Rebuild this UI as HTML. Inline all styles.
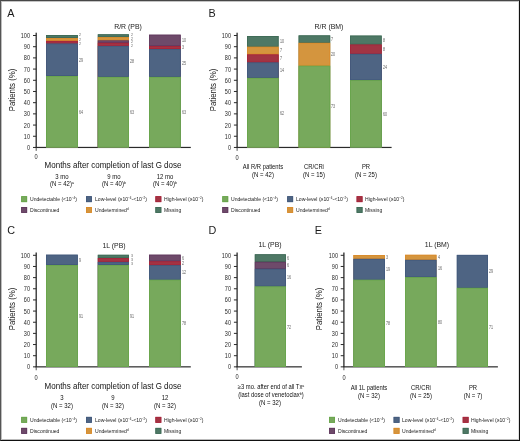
<!DOCTYPE html>
<html><head><meta charset="utf-8"><style>
html,body{margin:0;padding:0;background:#fff;}
body{width:520px;height:441px;position:relative;overflow:hidden;font-family:"Liberation Sans", sans-serif;}
.t{position:absolute;white-space:nowrap;line-height:1;font-family:"Liberation Sans", sans-serif;}
.t sup{font-size:60%;vertical-align:0;position:relative;top:-0.5em;line-height:0;}
.r{position:absolute;}
#frame{position:absolute;left:0;top:0;width:518px;height:439px;border-top:1px solid #474747;border-left:1px solid #555;border-right:1px solid #111;border-bottom:1px solid #111;}
#frame2{position:absolute;left:1px;top:1px;width:516px;height:437px;border-top:1px solid #c4c4c4;border-left:1px solid #bdbdbd;border-right:1px solid #e2e2e2;border-bottom:1px solid #bbb;}
#root{position:absolute;left:0;top:0;width:520px;height:441px;will-change:transform;}
</style></head><body><div id="root">
<svg width="520" height="441" viewBox="0 0 520 441" style="position:absolute;left:0;top:0"><rect x="35.55" y="32.70" width="1.30" height="115.35" fill="#2a2a2a"/><rect x="35.55" y="146.85" width="155.25" height="1.20" fill="#2a2a2a"/><rect x="33.00" y="146.95" width="3.20" height="1.00" fill="#2a2a2a"/><rect x="33.00" y="135.75" width="3.20" height="1.00" fill="#2a2a2a"/><rect x="33.00" y="124.56" width="3.20" height="1.00" fill="#2a2a2a"/><rect x="33.00" y="113.36" width="3.20" height="1.00" fill="#2a2a2a"/><rect x="33.00" y="102.17" width="3.20" height="1.00" fill="#2a2a2a"/><rect x="33.00" y="90.97" width="3.20" height="1.00" fill="#2a2a2a"/><rect x="33.00" y="79.78" width="3.20" height="1.00" fill="#2a2a2a"/><rect x="33.00" y="68.58" width="3.20" height="1.00" fill="#2a2a2a"/><rect x="33.00" y="57.39" width="3.20" height="1.00" fill="#2a2a2a"/><rect x="33.00" y="46.20" width="3.20" height="1.00" fill="#2a2a2a"/><rect x="33.00" y="35.00" width="3.20" height="1.00" fill="#2a2a2a"/><rect x="35.70" y="148.05" width="1.00" height="2.80" fill="#555"/><rect x="46.10" y="35.00" width="31.80" height="112.45" fill="#4e7865"/><rect x="46.10" y="38.00" width="31.80" height="109.45" fill="#d4953e"/><rect x="46.10" y="40.90" width="31.80" height="106.55" fill="#a23443"/><rect x="46.10" y="43.50" width="31.80" height="103.95" fill="#4e6483"/><rect x="46.10" y="76.00" width="31.80" height="71.45" fill="#77a95c"/><rect x="46.50" y="35.40" width="31.00" height="2.20" fill="none" stroke="#3e6a55" stroke-width="0.8"/><rect x="46.50" y="38.40" width="31.00" height="2.10" fill="none" stroke="#da8a2a" stroke-width="0.8"/><rect x="46.50" y="41.30" width="31.00" height="1.80" fill="none" stroke="#a8243a" stroke-width="0.8"/><rect x="46.50" y="43.90" width="31.00" height="31.70" fill="none" stroke="#42597c" stroke-width="0.8"/><rect x="46.50" y="76.40" width="31.00" height="70.65" fill="none" stroke="#68a64a" stroke-width="0.8"/><rect x="97.80" y="34.30" width="31.20" height="113.15" fill="#4e7865"/><rect x="97.80" y="37.10" width="31.20" height="110.35" fill="#d4953e"/><rect x="97.80" y="40.40" width="31.20" height="107.05" fill="#6e4a6a"/><rect x="97.80" y="42.80" width="31.20" height="104.65" fill="#a23443"/><rect x="97.80" y="45.90" width="31.20" height="101.55" fill="#4e6483"/><rect x="97.80" y="76.90" width="31.20" height="70.55" fill="#77a95c"/><rect x="98.20" y="34.70" width="30.40" height="2.00" fill="none" stroke="#3e6a55" stroke-width="0.8"/><rect x="98.20" y="37.50" width="30.40" height="2.50" fill="none" stroke="#da8a2a" stroke-width="0.8"/><rect x="98.20" y="40.80" width="30.40" height="1.60" fill="none" stroke="#60385e" stroke-width="0.8"/><rect x="98.20" y="43.20" width="30.40" height="2.30" fill="none" stroke="#a8243a" stroke-width="0.8"/><rect x="98.20" y="46.30" width="30.40" height="30.20" fill="none" stroke="#42597c" stroke-width="0.8"/><rect x="98.20" y="77.30" width="30.40" height="69.75" fill="none" stroke="#68a64a" stroke-width="0.8"/><rect x="149.10" y="34.70" width="31.60" height="112.75" fill="#6e4a6a"/><rect x="149.10" y="46.10" width="31.60" height="101.35" fill="#a23443"/><rect x="149.10" y="49.00" width="31.60" height="98.45" fill="#4e6483"/><rect x="149.10" y="76.90" width="31.60" height="70.55" fill="#77a95c"/><rect x="149.50" y="35.10" width="30.80" height="10.60" fill="none" stroke="#60385e" stroke-width="0.8"/><rect x="149.50" y="46.50" width="30.80" height="2.10" fill="none" stroke="#a8243a" stroke-width="0.8"/><rect x="149.50" y="49.40" width="30.80" height="27.10" fill="none" stroke="#42597c" stroke-width="0.8"/><rect x="149.50" y="77.30" width="30.80" height="69.75" fill="none" stroke="#68a64a" stroke-width="0.8"/><rect x="21.20" y="196.20" width="5.90" height="5.90" fill="#77a95c"/><rect x="21.60" y="196.60" width="5.10" height="5.10" fill="none" stroke="#68a64a" stroke-width="0.8"/><rect x="86.00" y="196.20" width="5.90" height="5.90" fill="#4e6483"/><rect x="86.40" y="196.60" width="5.10" height="5.10" fill="none" stroke="#42597c" stroke-width="0.8"/><rect x="155.40" y="196.20" width="5.90" height="5.90" fill="#a23443"/><rect x="155.80" y="196.60" width="5.10" height="5.10" fill="none" stroke="#a8243a" stroke-width="0.8"/><rect x="21.20" y="207.00" width="5.90" height="5.90" fill="#6e4a6a"/><rect x="21.60" y="207.40" width="5.10" height="5.10" fill="none" stroke="#60385e" stroke-width="0.8"/><rect x="86.00" y="207.00" width="5.90" height="5.90" fill="#d4953e"/><rect x="86.40" y="207.40" width="5.10" height="5.10" fill="none" stroke="#da8a2a" stroke-width="0.8"/><rect x="155.40" y="207.00" width="5.90" height="5.90" fill="#4e7865"/><rect x="155.80" y="207.40" width="5.10" height="5.10" fill="none" stroke="#3e6a55" stroke-width="0.8"/><rect x="236.45" y="32.70" width="1.30" height="115.35" fill="#2a2a2a"/><rect x="236.45" y="146.85" width="155.15" height="1.20" fill="#2a2a2a"/><rect x="233.90" y="146.95" width="3.20" height="1.00" fill="#2a2a2a"/><rect x="233.90" y="135.75" width="3.20" height="1.00" fill="#2a2a2a"/><rect x="233.90" y="124.56" width="3.20" height="1.00" fill="#2a2a2a"/><rect x="233.90" y="113.36" width="3.20" height="1.00" fill="#2a2a2a"/><rect x="233.90" y="102.17" width="3.20" height="1.00" fill="#2a2a2a"/><rect x="233.90" y="90.97" width="3.20" height="1.00" fill="#2a2a2a"/><rect x="233.90" y="79.78" width="3.20" height="1.00" fill="#2a2a2a"/><rect x="233.90" y="68.58" width="3.20" height="1.00" fill="#2a2a2a"/><rect x="233.90" y="57.39" width="3.20" height="1.00" fill="#2a2a2a"/><rect x="233.90" y="46.20" width="3.20" height="1.00" fill="#2a2a2a"/><rect x="233.90" y="35.00" width="3.20" height="1.00" fill="#2a2a2a"/><rect x="236.60" y="148.05" width="1.00" height="2.80" fill="#555"/><rect x="247.00" y="36.00" width="31.60" height="111.45" fill="#4e7865"/><rect x="247.00" y="46.70" width="31.60" height="100.75" fill="#d4953e"/><rect x="247.00" y="54.40" width="31.60" height="93.05" fill="#a23443"/><rect x="247.00" y="62.40" width="31.60" height="85.05" fill="#4e6483"/><rect x="247.00" y="77.90" width="31.60" height="69.55" fill="#77a95c"/><rect x="247.40" y="36.40" width="30.80" height="9.90" fill="none" stroke="#3e6a55" stroke-width="0.8"/><rect x="247.40" y="47.10" width="30.80" height="6.90" fill="none" stroke="#da8a2a" stroke-width="0.8"/><rect x="247.40" y="54.80" width="30.80" height="7.20" fill="none" stroke="#a8243a" stroke-width="0.8"/><rect x="247.40" y="62.80" width="30.80" height="14.70" fill="none" stroke="#42597c" stroke-width="0.8"/><rect x="247.40" y="78.30" width="30.80" height="68.75" fill="none" stroke="#68a64a" stroke-width="0.8"/><rect x="298.60" y="35.40" width="31.60" height="112.05" fill="#4e7865"/><rect x="298.60" y="42.80" width="31.60" height="104.65" fill="#d4953e"/><rect x="298.60" y="65.70" width="31.60" height="81.75" fill="#77a95c"/><rect x="299.00" y="35.80" width="30.80" height="6.60" fill="none" stroke="#3e6a55" stroke-width="0.8"/><rect x="299.00" y="43.20" width="30.80" height="22.10" fill="none" stroke="#da8a2a" stroke-width="0.8"/><rect x="299.00" y="66.10" width="30.80" height="80.95" fill="none" stroke="#68a64a" stroke-width="0.8"/><rect x="350.10" y="35.60" width="31.60" height="111.85" fill="#4e7865"/><rect x="350.10" y="44.50" width="31.60" height="102.95" fill="#a23443"/><rect x="350.10" y="53.80" width="31.60" height="93.65" fill="#4e6483"/><rect x="350.10" y="80.20" width="31.60" height="67.25" fill="#77a95c"/><rect x="350.50" y="36.00" width="30.80" height="8.10" fill="none" stroke="#3e6a55" stroke-width="0.8"/><rect x="350.50" y="44.90" width="30.80" height="8.50" fill="none" stroke="#a8243a" stroke-width="0.8"/><rect x="350.50" y="54.20" width="30.80" height="25.60" fill="none" stroke="#42597c" stroke-width="0.8"/><rect x="350.50" y="80.60" width="30.80" height="66.45" fill="none" stroke="#68a64a" stroke-width="0.8"/><rect x="222.30" y="196.20" width="5.90" height="5.90" fill="#77a95c"/><rect x="222.70" y="196.60" width="5.10" height="5.10" fill="none" stroke="#68a64a" stroke-width="0.8"/><rect x="287.20" y="196.20" width="5.90" height="5.90" fill="#4e6483"/><rect x="287.60" y="196.60" width="5.10" height="5.10" fill="none" stroke="#42597c" stroke-width="0.8"/><rect x="356.60" y="196.20" width="5.90" height="5.90" fill="#a23443"/><rect x="357.00" y="196.60" width="5.10" height="5.10" fill="none" stroke="#a8243a" stroke-width="0.8"/><rect x="222.30" y="207.00" width="5.90" height="5.90" fill="#6e4a6a"/><rect x="222.70" y="207.40" width="5.10" height="5.10" fill="none" stroke="#60385e" stroke-width="0.8"/><rect x="287.20" y="207.00" width="5.90" height="5.90" fill="#d4953e"/><rect x="287.60" y="207.40" width="5.10" height="5.10" fill="none" stroke="#da8a2a" stroke-width="0.8"/><rect x="356.60" y="207.00" width="5.90" height="5.90" fill="#4e7865"/><rect x="357.00" y="207.40" width="5.10" height="5.10" fill="none" stroke="#3e6a55" stroke-width="0.8"/><rect x="35.55" y="252.50" width="1.30" height="114.95" fill="#2a2a2a"/><rect x="35.55" y="366.25" width="155.25" height="1.20" fill="#2a2a2a"/><rect x="33.00" y="366.35" width="3.20" height="1.00" fill="#2a2a2a"/><rect x="33.00" y="355.20" width="3.20" height="1.00" fill="#2a2a2a"/><rect x="33.00" y="344.04" width="3.20" height="1.00" fill="#2a2a2a"/><rect x="33.00" y="332.88" width="3.20" height="1.00" fill="#2a2a2a"/><rect x="33.00" y="321.73" width="3.20" height="1.00" fill="#2a2a2a"/><rect x="33.00" y="310.58" width="3.20" height="1.00" fill="#2a2a2a"/><rect x="33.00" y="299.42" width="3.20" height="1.00" fill="#2a2a2a"/><rect x="33.00" y="288.26" width="3.20" height="1.00" fill="#2a2a2a"/><rect x="33.00" y="277.11" width="3.20" height="1.00" fill="#2a2a2a"/><rect x="33.00" y="265.96" width="3.20" height="1.00" fill="#2a2a2a"/><rect x="33.00" y="254.80" width="3.20" height="1.00" fill="#2a2a2a"/><rect x="35.70" y="367.45" width="1.00" height="2.80" fill="#555"/><rect x="46.00" y="254.70" width="31.80" height="112.15" fill="#4e6483"/><rect x="46.00" y="265.00" width="31.80" height="101.85" fill="#77a95c"/><rect x="46.40" y="255.10" width="31.00" height="9.50" fill="none" stroke="#42597c" stroke-width="0.8"/><rect x="46.40" y="265.40" width="31.00" height="101.05" fill="none" stroke="#68a64a" stroke-width="0.8"/><rect x="97.80" y="254.80" width="31.20" height="112.05" fill="#4e7865"/><rect x="97.80" y="258.10" width="31.20" height="108.75" fill="#a23443"/><rect x="97.80" y="261.90" width="31.20" height="104.95" fill="#4e6483"/><rect x="97.80" y="265.00" width="31.20" height="101.85" fill="#77a95c"/><rect x="98.20" y="255.20" width="30.40" height="2.50" fill="none" stroke="#3e6a55" stroke-width="0.8"/><rect x="98.20" y="258.50" width="30.40" height="3.00" fill="none" stroke="#a8243a" stroke-width="0.8"/><rect x="98.20" y="262.30" width="30.40" height="2.30" fill="none" stroke="#42597c" stroke-width="0.8"/><rect x="98.20" y="265.40" width="30.40" height="101.05" fill="none" stroke="#68a64a" stroke-width="0.8"/><rect x="149.00" y="254.70" width="31.70" height="112.15" fill="#6e4a6a"/><rect x="149.00" y="261.30" width="31.70" height="105.55" fill="#a23443"/><rect x="149.00" y="265.20" width="31.70" height="101.65" fill="#4e6483"/><rect x="149.00" y="279.70" width="31.70" height="87.15" fill="#77a95c"/><rect x="149.40" y="255.10" width="30.90" height="5.80" fill="none" stroke="#60385e" stroke-width="0.8"/><rect x="149.40" y="261.70" width="30.90" height="3.10" fill="none" stroke="#a8243a" stroke-width="0.8"/><rect x="149.40" y="265.60" width="30.90" height="13.70" fill="none" stroke="#42597c" stroke-width="0.8"/><rect x="149.40" y="280.10" width="30.90" height="86.35" fill="none" stroke="#68a64a" stroke-width="0.8"/><rect x="21.20" y="416.90" width="5.90" height="5.90" fill="#77a95c"/><rect x="21.60" y="417.30" width="5.10" height="5.10" fill="none" stroke="#68a64a" stroke-width="0.8"/><rect x="86.00" y="416.90" width="5.90" height="5.90" fill="#4e6483"/><rect x="86.40" y="417.30" width="5.10" height="5.10" fill="none" stroke="#42597c" stroke-width="0.8"/><rect x="155.40" y="416.90" width="5.90" height="5.90" fill="#a23443"/><rect x="155.80" y="417.30" width="5.10" height="5.10" fill="none" stroke="#a8243a" stroke-width="0.8"/><rect x="21.20" y="427.90" width="5.90" height="5.90" fill="#6e4a6a"/><rect x="21.60" y="428.30" width="5.10" height="5.10" fill="none" stroke="#60385e" stroke-width="0.8"/><rect x="86.00" y="427.90" width="5.90" height="5.90" fill="#d4953e"/><rect x="86.40" y="428.30" width="5.10" height="5.10" fill="none" stroke="#da8a2a" stroke-width="0.8"/><rect x="155.40" y="427.90" width="5.90" height="5.90" fill="#4e7865"/><rect x="155.80" y="428.30" width="5.10" height="5.10" fill="none" stroke="#3e6a55" stroke-width="0.8"/><rect x="236.45" y="252.50" width="1.30" height="114.95" fill="#2a2a2a"/><rect x="236.45" y="366.25" width="65.45" height="1.20" fill="#2a2a2a"/><rect x="233.90" y="366.35" width="3.20" height="1.00" fill="#2a2a2a"/><rect x="233.90" y="355.20" width="3.20" height="1.00" fill="#2a2a2a"/><rect x="233.90" y="344.04" width="3.20" height="1.00" fill="#2a2a2a"/><rect x="233.90" y="332.88" width="3.20" height="1.00" fill="#2a2a2a"/><rect x="233.90" y="321.73" width="3.20" height="1.00" fill="#2a2a2a"/><rect x="233.90" y="310.58" width="3.20" height="1.00" fill="#2a2a2a"/><rect x="233.90" y="299.42" width="3.20" height="1.00" fill="#2a2a2a"/><rect x="233.90" y="288.26" width="3.20" height="1.00" fill="#2a2a2a"/><rect x="233.90" y="277.11" width="3.20" height="1.00" fill="#2a2a2a"/><rect x="233.90" y="265.96" width="3.20" height="1.00" fill="#2a2a2a"/><rect x="233.90" y="254.80" width="3.20" height="1.00" fill="#2a2a2a"/><rect x="236.60" y="367.45" width="1.00" height="2.80" fill="#555"/><rect x="254.80" y="254.30" width="31.10" height="112.55" fill="#4e7865"/><rect x="254.80" y="261.80" width="31.10" height="105.05" fill="#6e4a6a"/><rect x="254.80" y="268.80" width="31.10" height="98.05" fill="#4e6483"/><rect x="254.80" y="286.40" width="31.10" height="80.45" fill="#77a95c"/><rect x="255.20" y="254.70" width="30.30" height="6.70" fill="none" stroke="#3e6a55" stroke-width="0.8"/><rect x="255.20" y="262.20" width="30.30" height="6.20" fill="none" stroke="#60385e" stroke-width="0.8"/><rect x="255.20" y="269.20" width="30.30" height="16.80" fill="none" stroke="#42597c" stroke-width="0.8"/><rect x="255.20" y="286.80" width="30.30" height="79.65" fill="none" stroke="#68a64a" stroke-width="0.8"/><rect x="343.25" y="252.50" width="1.30" height="114.95" fill="#2a2a2a"/><rect x="343.25" y="366.25" width="154.65" height="1.20" fill="#2a2a2a"/><rect x="340.70" y="366.35" width="3.20" height="1.00" fill="#2a2a2a"/><rect x="340.70" y="355.20" width="3.20" height="1.00" fill="#2a2a2a"/><rect x="340.70" y="344.04" width="3.20" height="1.00" fill="#2a2a2a"/><rect x="340.70" y="332.88" width="3.20" height="1.00" fill="#2a2a2a"/><rect x="340.70" y="321.73" width="3.20" height="1.00" fill="#2a2a2a"/><rect x="340.70" y="310.58" width="3.20" height="1.00" fill="#2a2a2a"/><rect x="340.70" y="299.42" width="3.20" height="1.00" fill="#2a2a2a"/><rect x="340.70" y="288.26" width="3.20" height="1.00" fill="#2a2a2a"/><rect x="340.70" y="277.11" width="3.20" height="1.00" fill="#2a2a2a"/><rect x="340.70" y="265.96" width="3.20" height="1.00" fill="#2a2a2a"/><rect x="340.70" y="254.80" width="3.20" height="1.00" fill="#2a2a2a"/><rect x="343.40" y="367.45" width="1.00" height="2.80" fill="#555"/><rect x="353.40" y="255.00" width="31.60" height="111.85" fill="#d4953e"/><rect x="353.40" y="258.80" width="31.60" height="108.05" fill="#4e6483"/><rect x="353.40" y="279.70" width="31.60" height="87.15" fill="#77a95c"/><rect x="353.80" y="255.40" width="30.80" height="3.00" fill="none" stroke="#da8a2a" stroke-width="0.8"/><rect x="353.80" y="259.20" width="30.80" height="20.10" fill="none" stroke="#42597c" stroke-width="0.8"/><rect x="353.80" y="280.10" width="30.80" height="86.35" fill="none" stroke="#68a64a" stroke-width="0.8"/><rect x="405.00" y="254.80" width="31.50" height="112.05" fill="#d4953e"/><rect x="405.00" y="259.80" width="31.50" height="107.05" fill="#4e6483"/><rect x="405.00" y="277.20" width="31.50" height="89.65" fill="#77a95c"/><rect x="405.40" y="255.20" width="30.70" height="4.20" fill="none" stroke="#da8a2a" stroke-width="0.8"/><rect x="405.40" y="260.20" width="30.70" height="16.60" fill="none" stroke="#42597c" stroke-width="0.8"/><rect x="405.40" y="277.60" width="30.70" height="88.85" fill="none" stroke="#68a64a" stroke-width="0.8"/><rect x="456.80" y="254.90" width="31.20" height="111.95" fill="#4e6483"/><rect x="456.80" y="287.80" width="31.20" height="79.05" fill="#77a95c"/><rect x="457.20" y="255.30" width="30.40" height="32.10" fill="none" stroke="#42597c" stroke-width="0.8"/><rect x="457.20" y="288.20" width="30.40" height="78.25" fill="none" stroke="#68a64a" stroke-width="0.8"/><rect x="329.10" y="416.90" width="5.90" height="5.90" fill="#77a95c"/><rect x="329.50" y="417.30" width="5.10" height="5.10" fill="none" stroke="#68a64a" stroke-width="0.8"/><rect x="393.60" y="416.90" width="5.90" height="5.90" fill="#4e6483"/><rect x="394.00" y="417.30" width="5.10" height="5.10" fill="none" stroke="#42597c" stroke-width="0.8"/><rect x="462.70" y="416.90" width="5.90" height="5.90" fill="#a23443"/><rect x="463.10" y="417.30" width="5.10" height="5.10" fill="none" stroke="#a8243a" stroke-width="0.8"/><rect x="329.10" y="427.90" width="5.90" height="5.90" fill="#6e4a6a"/><rect x="329.50" y="428.30" width="5.10" height="5.10" fill="none" stroke="#60385e" stroke-width="0.8"/><rect x="393.60" y="427.90" width="5.90" height="5.90" fill="#d4953e"/><rect x="394.00" y="428.30" width="5.10" height="5.10" fill="none" stroke="#da8a2a" stroke-width="0.8"/><rect x="462.70" y="427.90" width="5.90" height="5.90" fill="#4e7865"/><rect x="463.10" y="428.30" width="5.10" height="5.10" fill="none" stroke="#3e6a55" stroke-width="0.8"/></svg>
<div class="t" style="left:7.20px;top:8px;font-size:10.8px;color:#1a1a1a;transform:;transform-origin:0 0;">A</div><div class="t" style="left:128.35px;top:23px;font-size:7.7px;color:#1a1a1a;transform:translateX(-50%) scaleX(0.9);transform-origin:50% 0;">R/R (PB)</div><div class="t" style="left:29.90px;top:145px;font-size:6.3px;color:#2a2a2a;transform:translateX(-100%) scaleX(0.88);transform-origin:100% 0;">0</div><div class="t" style="left:29.90px;top:134px;font-size:6.3px;color:#2a2a2a;transform:translateX(-100%) scaleX(0.88);transform-origin:100% 0;">10</div><div class="t" style="left:29.90px;top:123px;font-size:6.3px;color:#2a2a2a;transform:translateX(-100%) scaleX(0.88);transform-origin:100% 0;">20</div><div class="t" style="left:29.90px;top:111px;font-size:6.3px;color:#2a2a2a;transform:translateX(-100%) scaleX(0.88);transform-origin:100% 0;">30</div><div class="t" style="left:29.90px;top:100px;font-size:6.3px;color:#2a2a2a;transform:translateX(-100%) scaleX(0.88);transform-origin:100% 0;">40</div><div class="t" style="left:29.90px;top:89px;font-size:6.3px;color:#2a2a2a;transform:translateX(-100%) scaleX(0.88);transform-origin:100% 0;">50</div><div class="t" style="left:29.90px;top:78px;font-size:6.3px;color:#2a2a2a;transform:translateX(-100%) scaleX(0.88);transform-origin:100% 0;">60</div><div class="t" style="left:29.90px;top:67px;font-size:6.3px;color:#2a2a2a;transform:translateX(-100%) scaleX(0.88);transform-origin:100% 0;">70</div><div class="t" style="left:29.90px;top:55px;font-size:6.3px;color:#2a2a2a;transform:translateX(-100%) scaleX(0.88);transform-origin:100% 0;">80</div><div class="t" style="left:29.90px;top:44px;font-size:6.3px;color:#2a2a2a;transform:translateX(-100%) scaleX(0.88);transform-origin:100% 0;">90</div><div class="t" style="left:29.90px;top:33px;font-size:6.3px;color:#2a2a2a;transform:translateX(-100%) scaleX(0.88);transform-origin:100% 0;">100</div><div class="t" style="left:36.10px;top:154px;font-size:6.3px;color:#2a2a2a;transform:translateX(-50%) scaleX(0.9);transform-origin:50% 0;">0</div><div class="t" style="left:12.00px;top:90.10px;font-size:8.3px;color:#222;transform:translate(-50%,-50%) rotate(-90deg) scaleX(0.945);">Patients (%)</div><div class="t" style="left:79.00px;top:59px;font-size:4.8px;color:#5e5e5e;transform: scaleX(0.75);transform-origin:0 0;">29</div><div class="t" style="left:79.00px;top:111px;font-size:4.8px;color:#5e5e5e;transform: scaleX(0.75);transform-origin:0 0;">64</div><div class="t" style="left:79.00px;top:33px;font-size:4.4px;color:#5e5e5e;transform: scaleX(0.8);transform-origin:0 0;">2</div><div class="t" style="left:79.00px;top:38px;font-size:4.4px;color:#5e5e5e;transform: scaleX(0.8);transform-origin:0 0;">2</div><div class="t" style="left:79.00px;top:42px;font-size:4.4px;color:#5e5e5e;transform: scaleX(0.8);transform-origin:0 0;">2</div><div class="t" style="left:130.10px;top:60px;font-size:4.8px;color:#5e5e5e;transform: scaleX(0.75);transform-origin:0 0;">28</div><div class="t" style="left:130.10px;top:111px;font-size:4.8px;color:#5e5e5e;transform: scaleX(0.75);transform-origin:0 0;">63</div><div class="t" style="left:130.90px;top:33px;font-size:4.4px;color:#5e5e5e;transform: scaleX(0.8);transform-origin:0 0;">2</div><div class="t" style="left:130.90px;top:37px;font-size:4.4px;color:#5e5e5e;transform: scaleX(0.8);transform-origin:0 0;">2</div><div class="t" style="left:130.90px;top:40px;font-size:4.4px;color:#5e5e5e;transform: scaleX(0.8);transform-origin:0 0;">2</div><div class="t" style="left:130.90px;top:44px;font-size:4.4px;color:#5e5e5e;transform: scaleX(0.8);transform-origin:0 0;">2</div><div class="t" style="left:181.80px;top:39px;font-size:4.8px;color:#5e5e5e;transform: scaleX(0.75);transform-origin:0 0;">10</div><div class="t" style="left:181.80px;top:46px;font-size:4.8px;color:#5e5e5e;transform: scaleX(0.75);transform-origin:0 0;">3</div><div class="t" style="left:181.80px;top:62px;font-size:4.8px;color:#5e5e5e;transform: scaleX(0.75);transform-origin:0 0;">25</div><div class="t" style="left:181.80px;top:111px;font-size:4.8px;color:#5e5e5e;transform: scaleX(0.75);transform-origin:0 0;">63</div><div class="t" style="left:113.25px;top:161px;font-size:8.6px;color:#111;transform:translateX(-50%) scaleX(0.93);transform-origin:50% 0;">Months after completion of last G dose</div><div class="t" style="left:61.70px;top:174px;font-size:6.3px;color:#111;transform:translateX(-50%) scaleX(0.95);transform-origin:50% 0;">3 mo</div><div class="t" style="left:61.70px;top:181px;font-size:6.3px;color:#111;transform:translateX(-50%) scaleX(0.95);transform-origin:50% 0;">(N = 42)<sup>a</sup></div><div class="t" style="left:113.50px;top:174px;font-size:6.3px;color:#111;transform:translateX(-50%) scaleX(0.95);transform-origin:50% 0;">9 mo</div><div class="t" style="left:113.50px;top:181px;font-size:6.3px;color:#111;transform:translateX(-50%) scaleX(0.95);transform-origin:50% 0;">(N = 40)<sup>b</sup></div><div class="t" style="left:165.00px;top:174px;font-size:6.3px;color:#111;transform:translateX(-50%) scaleX(0.95);transform-origin:50% 0;">12 mo</div><div class="t" style="left:165.00px;top:181px;font-size:6.3px;color:#111;transform:translateX(-50%) scaleX(0.95);transform-origin:50% 0;">(N = 40)<sup>b</sup></div><div class="t" style="left:29.80px;top:197px;font-size:5.3px;color:#1a1a1a;transform: scaleX(0.96);transform-origin:0 0;">Undetectable (&lt;10<sup>−4</sup>)</div><div class="t" style="left:94.60px;top:197px;font-size:5.3px;color:#1a1a1a;transform: scaleX(0.96);transform-origin:0 0;">Low-level (≥10<sup>−4</sup>-&lt;10<sup>−2</sup>)</div><div class="t" style="left:164.00px;top:197px;font-size:5.3px;color:#1a1a1a;transform: scaleX(0.96);transform-origin:0 0;">High-level (≥10<sup>−2</sup>)</div><div class="t" style="left:29.80px;top:208px;font-size:5.3px;color:#1a1a1a;transform: scaleX(0.96);transform-origin:0 0;">Discontinued</div><div class="t" style="left:94.60px;top:208px;font-size:5.3px;color:#1a1a1a;transform: scaleX(0.96);transform-origin:0 0;">Undetermined<sup>d</sup></div><div class="t" style="left:164.00px;top:208px;font-size:5.3px;color:#1a1a1a;transform: scaleX(0.96);transform-origin:0 0;">Missing</div><div class="t" style="left:208.40px;top:8px;font-size:10.8px;color:#1a1a1a;transform:;transform-origin:0 0;">B</div><div class="t" style="left:329.30px;top:23px;font-size:7.7px;color:#1a1a1a;transform:translateX(-50%) scaleX(0.9);transform-origin:50% 0;">R/R (BM)</div><div class="t" style="left:230.80px;top:145px;font-size:6.3px;color:#2a2a2a;transform:translateX(-100%) scaleX(0.88);transform-origin:100% 0;">0</div><div class="t" style="left:230.80px;top:134px;font-size:6.3px;color:#2a2a2a;transform:translateX(-100%) scaleX(0.88);transform-origin:100% 0;">10</div><div class="t" style="left:230.80px;top:123px;font-size:6.3px;color:#2a2a2a;transform:translateX(-100%) scaleX(0.88);transform-origin:100% 0;">20</div><div class="t" style="left:230.80px;top:111px;font-size:6.3px;color:#2a2a2a;transform:translateX(-100%) scaleX(0.88);transform-origin:100% 0;">30</div><div class="t" style="left:230.80px;top:100px;font-size:6.3px;color:#2a2a2a;transform:translateX(-100%) scaleX(0.88);transform-origin:100% 0;">40</div><div class="t" style="left:230.80px;top:89px;font-size:6.3px;color:#2a2a2a;transform:translateX(-100%) scaleX(0.88);transform-origin:100% 0;">50</div><div class="t" style="left:230.80px;top:78px;font-size:6.3px;color:#2a2a2a;transform:translateX(-100%) scaleX(0.88);transform-origin:100% 0;">60</div><div class="t" style="left:230.80px;top:67px;font-size:6.3px;color:#2a2a2a;transform:translateX(-100%) scaleX(0.88);transform-origin:100% 0;">70</div><div class="t" style="left:230.80px;top:55px;font-size:6.3px;color:#2a2a2a;transform:translateX(-100%) scaleX(0.88);transform-origin:100% 0;">80</div><div class="t" style="left:230.80px;top:44px;font-size:6.3px;color:#2a2a2a;transform:translateX(-100%) scaleX(0.88);transform-origin:100% 0;">90</div><div class="t" style="left:230.80px;top:33px;font-size:6.3px;color:#2a2a2a;transform:translateX(-100%) scaleX(0.88);transform-origin:100% 0;">100</div><div class="t" style="left:237.00px;top:155px;font-size:6.3px;color:#2a2a2a;transform:translateX(-50%) scaleX(0.9);transform-origin:50% 0;">0</div><div class="t" style="left:212.60px;top:90.10px;font-size:8.3px;color:#222;transform:translate(-50%,-50%) rotate(-90deg) scaleX(0.945);">Patients (%)</div><div class="t" style="left:279.70px;top:40px;font-size:4.8px;color:#5e5e5e;transform: scaleX(0.75);transform-origin:0 0;">10</div><div class="t" style="left:279.70px;top:49px;font-size:4.8px;color:#5e5e5e;transform: scaleX(0.75);transform-origin:0 0;">7</div><div class="t" style="left:279.70px;top:57px;font-size:4.8px;color:#5e5e5e;transform: scaleX(0.75);transform-origin:0 0;">7</div><div class="t" style="left:279.70px;top:69px;font-size:4.8px;color:#5e5e5e;transform: scaleX(0.75);transform-origin:0 0;">14</div><div class="t" style="left:279.70px;top:112px;font-size:4.8px;color:#5e5e5e;transform: scaleX(0.75);transform-origin:0 0;">62</div><div class="t" style="left:331.30px;top:38px;font-size:4.8px;color:#5e5e5e;transform: scaleX(0.75);transform-origin:0 0;">7</div><div class="t" style="left:331.30px;top:53px;font-size:4.8px;color:#5e5e5e;transform: scaleX(0.75);transform-origin:0 0;">20</div><div class="t" style="left:331.30px;top:105px;font-size:4.8px;color:#5e5e5e;transform: scaleX(0.75);transform-origin:0 0;">73</div><div class="t" style="left:382.80px;top:39px;font-size:4.8px;color:#5e5e5e;transform: scaleX(0.75);transform-origin:0 0;">8</div><div class="t" style="left:382.80px;top:48px;font-size:4.8px;color:#5e5e5e;transform: scaleX(0.75);transform-origin:0 0;">8</div><div class="t" style="left:382.80px;top:66px;font-size:4.8px;color:#5e5e5e;transform: scaleX(0.75);transform-origin:0 0;">24</div><div class="t" style="left:382.80px;top:113px;font-size:4.8px;color:#5e5e5e;transform: scaleX(0.75);transform-origin:0 0;">60</div><div class="t" style="left:262.80px;top:164px;font-size:6.3px;color:#111;transform:translateX(-50%) scaleX(0.93);transform-origin:50% 0;">All R/R patients</div><div class="t" style="left:262.80px;top:172px;font-size:6.3px;color:#111;transform:translateX(-50%) scaleX(0.95);transform-origin:50% 0;">(N = 42)</div><div class="t" style="left:314.40px;top:164px;font-size:6.3px;color:#111;transform:translateX(-50%) scaleX(0.93);transform-origin:50% 0;">CR/CRi</div><div class="t" style="left:314.40px;top:172px;font-size:6.3px;color:#111;transform:translateX(-50%) scaleX(0.95);transform-origin:50% 0;">(N = 15)</div><div class="t" style="left:365.90px;top:164px;font-size:6.3px;color:#111;transform:translateX(-50%) scaleX(0.93);transform-origin:50% 0;">PR</div><div class="t" style="left:365.90px;top:172px;font-size:6.3px;color:#111;transform:translateX(-50%) scaleX(0.95);transform-origin:50% 0;">(N = 25)</div><div class="t" style="left:230.90px;top:197px;font-size:5.3px;color:#1a1a1a;transform: scaleX(0.96);transform-origin:0 0;">Undetectable (&lt;10<sup>−4</sup>)</div><div class="t" style="left:295.80px;top:197px;font-size:5.3px;color:#1a1a1a;transform: scaleX(0.96);transform-origin:0 0;">Low-level (≥10<sup>−4</sup>-&lt;10<sup>−2</sup>)</div><div class="t" style="left:365.20px;top:197px;font-size:5.3px;color:#1a1a1a;transform: scaleX(0.96);transform-origin:0 0;">High-level (≥10<sup>−2</sup>)</div><div class="t" style="left:230.90px;top:208px;font-size:5.3px;color:#1a1a1a;transform: scaleX(0.96);transform-origin:0 0;">Discontinued</div><div class="t" style="left:295.80px;top:208px;font-size:5.3px;color:#1a1a1a;transform: scaleX(0.96);transform-origin:0 0;">Undetermined<sup>d</sup></div><div class="t" style="left:365.20px;top:208px;font-size:5.3px;color:#1a1a1a;transform: scaleX(0.96);transform-origin:0 0;">Missing</div><div class="t" style="left:7.30px;top:225px;font-size:10.8px;color:#1a1a1a;transform:;transform-origin:0 0;">C</div><div class="t" style="left:113.95px;top:242px;font-size:7.7px;color:#1a1a1a;transform:translateX(-50%) scaleX(0.9);transform-origin:50% 0;">1L (PB)</div><div class="t" style="left:29.90px;top:364px;font-size:6.3px;color:#2a2a2a;transform:translateX(-100%) scaleX(0.88);transform-origin:100% 0;">0</div><div class="t" style="left:29.90px;top:353px;font-size:6.3px;color:#2a2a2a;transform:translateX(-100%) scaleX(0.88);transform-origin:100% 0;">10</div><div class="t" style="left:29.90px;top:342px;font-size:6.3px;color:#2a2a2a;transform:translateX(-100%) scaleX(0.88);transform-origin:100% 0;">20</div><div class="t" style="left:29.90px;top:331px;font-size:6.3px;color:#2a2a2a;transform:translateX(-100%) scaleX(0.88);transform-origin:100% 0;">30</div><div class="t" style="left:29.90px;top:320px;font-size:6.3px;color:#2a2a2a;transform:translateX(-100%) scaleX(0.88);transform-origin:100% 0;">40</div><div class="t" style="left:29.90px;top:309px;font-size:6.3px;color:#2a2a2a;transform:translateX(-100%) scaleX(0.88);transform-origin:100% 0;">50</div><div class="t" style="left:29.90px;top:297px;font-size:6.3px;color:#2a2a2a;transform:translateX(-100%) scaleX(0.88);transform-origin:100% 0;">60</div><div class="t" style="left:29.90px;top:286px;font-size:6.3px;color:#2a2a2a;transform:translateX(-100%) scaleX(0.88);transform-origin:100% 0;">70</div><div class="t" style="left:29.90px;top:275px;font-size:6.3px;color:#2a2a2a;transform:translateX(-100%) scaleX(0.88);transform-origin:100% 0;">80</div><div class="t" style="left:29.90px;top:264px;font-size:6.3px;color:#2a2a2a;transform:translateX(-100%) scaleX(0.88);transform-origin:100% 0;">90</div><div class="t" style="left:29.90px;top:253px;font-size:6.3px;color:#2a2a2a;transform:translateX(-100%) scaleX(0.88);transform-origin:100% 0;">100</div><div class="t" style="left:36.10px;top:375px;font-size:6.3px;color:#2a2a2a;transform:translateX(-50%) scaleX(0.9);transform-origin:50% 0;">0</div><div class="t" style="left:12.00px;top:309.35px;font-size:8.3px;color:#222;transform:translate(-50%,-50%) rotate(-90deg) scaleX(0.945);">Patients (%)</div><div class="t" style="left:78.90px;top:259px;font-size:4.8px;color:#5e5e5e;transform: scaleX(0.75);transform-origin:0 0;">9</div><div class="t" style="left:78.90px;top:315px;font-size:4.8px;color:#5e5e5e;transform: scaleX(0.75);transform-origin:0 0;">91</div><div class="t" style="left:130.10px;top:315px;font-size:4.8px;color:#5e5e5e;transform: scaleX(0.75);transform-origin:0 0;">91</div><div class="t" style="left:131.00px;top:254px;font-size:4.4px;color:#5e5e5e;transform: scaleX(0.8);transform-origin:0 0;">3</div><div class="t" style="left:131.00px;top:258px;font-size:4.4px;color:#5e5e5e;transform: scaleX(0.8);transform-origin:0 0;">3</div><div class="t" style="left:131.00px;top:262px;font-size:4.4px;color:#5e5e5e;transform: scaleX(0.8);transform-origin:0 0;">3</div><div class="t" style="left:181.80px;top:257px;font-size:4.8px;color:#5e5e5e;transform: scaleX(0.75);transform-origin:0 0;">6</div><div class="t" style="left:181.80px;top:262px;font-size:4.8px;color:#5e5e5e;transform: scaleX(0.75);transform-origin:0 0;">2</div><div class="t" style="left:181.80px;top:271px;font-size:4.8px;color:#5e5e5e;transform: scaleX(0.75);transform-origin:0 0;">12</div><div class="t" style="left:181.80px;top:322px;font-size:4.8px;color:#5e5e5e;transform: scaleX(0.75);transform-origin:0 0;">78</div><div class="t" style="left:113.25px;top:382px;font-size:8.6px;color:#111;transform:translateX(-50%) scaleX(0.93);transform-origin:50% 0;">Months after completion of last G dose</div><div class="t" style="left:61.60px;top:395px;font-size:6.3px;color:#111;transform:translateX(-50%) scaleX(0.95);transform-origin:50% 0;">3</div><div class="t" style="left:61.60px;top:403px;font-size:6.3px;color:#111;transform:translateX(-50%) scaleX(0.95);transform-origin:50% 0;">(N = 32)</div><div class="t" style="left:113.40px;top:395px;font-size:6.3px;color:#111;transform:translateX(-50%) scaleX(0.95);transform-origin:50% 0;">9</div><div class="t" style="left:113.40px;top:403px;font-size:6.3px;color:#111;transform:translateX(-50%) scaleX(0.95);transform-origin:50% 0;">(N = 32)</div><div class="t" style="left:165.00px;top:395px;font-size:6.3px;color:#111;transform:translateX(-50%) scaleX(0.95);transform-origin:50% 0;">12</div><div class="t" style="left:165.00px;top:403px;font-size:6.3px;color:#111;transform:translateX(-50%) scaleX(0.95);transform-origin:50% 0;">(N = 32)</div><div class="t" style="left:29.80px;top:418px;font-size:5.3px;color:#1a1a1a;transform: scaleX(0.96);transform-origin:0 0;">Undetectable (&lt;10<sup>−4</sup>)</div><div class="t" style="left:94.60px;top:418px;font-size:5.3px;color:#1a1a1a;transform: scaleX(0.96);transform-origin:0 0;">Low-level (≥10<sup>−4</sup>-&lt;10<sup>−2</sup>)</div><div class="t" style="left:164.00px;top:418px;font-size:5.3px;color:#1a1a1a;transform: scaleX(0.96);transform-origin:0 0;">High-level (≥10<sup>−2</sup>)</div><div class="t" style="left:29.80px;top:429px;font-size:5.3px;color:#1a1a1a;transform: scaleX(0.96);transform-origin:0 0;">Discontinued</div><div class="t" style="left:94.60px;top:429px;font-size:5.3px;color:#1a1a1a;transform: scaleX(0.96);transform-origin:0 0;">Undetermined<sup>d</sup></div><div class="t" style="left:164.00px;top:429px;font-size:5.3px;color:#1a1a1a;transform: scaleX(0.96);transform-origin:0 0;">Missing</div><div class="t" style="left:208.60px;top:225px;font-size:10.8px;color:#1a1a1a;transform:;transform-origin:0 0;">D</div><div class="t" style="left:270.40px;top:241px;font-size:7.7px;color:#1a1a1a;transform:translateX(-50%) scaleX(0.9);transform-origin:50% 0;">1L (PB)</div><div class="t" style="left:230.80px;top:364px;font-size:6.3px;color:#2a2a2a;transform:translateX(-100%) scaleX(0.88);transform-origin:100% 0;">0</div><div class="t" style="left:230.80px;top:353px;font-size:6.3px;color:#2a2a2a;transform:translateX(-100%) scaleX(0.88);transform-origin:100% 0;">10</div><div class="t" style="left:230.80px;top:342px;font-size:6.3px;color:#2a2a2a;transform:translateX(-100%) scaleX(0.88);transform-origin:100% 0;">20</div><div class="t" style="left:230.80px;top:331px;font-size:6.3px;color:#2a2a2a;transform:translateX(-100%) scaleX(0.88);transform-origin:100% 0;">30</div><div class="t" style="left:230.80px;top:320px;font-size:6.3px;color:#2a2a2a;transform:translateX(-100%) scaleX(0.88);transform-origin:100% 0;">40</div><div class="t" style="left:230.80px;top:309px;font-size:6.3px;color:#2a2a2a;transform:translateX(-100%) scaleX(0.88);transform-origin:100% 0;">50</div><div class="t" style="left:230.80px;top:297px;font-size:6.3px;color:#2a2a2a;transform:translateX(-100%) scaleX(0.88);transform-origin:100% 0;">60</div><div class="t" style="left:230.80px;top:286px;font-size:6.3px;color:#2a2a2a;transform:translateX(-100%) scaleX(0.88);transform-origin:100% 0;">70</div><div class="t" style="left:230.80px;top:275px;font-size:6.3px;color:#2a2a2a;transform:translateX(-100%) scaleX(0.88);transform-origin:100% 0;">80</div><div class="t" style="left:230.80px;top:264px;font-size:6.3px;color:#2a2a2a;transform:translateX(-100%) scaleX(0.88);transform-origin:100% 0;">90</div><div class="t" style="left:230.80px;top:253px;font-size:6.3px;color:#2a2a2a;transform:translateX(-100%) scaleX(0.88);transform-origin:100% 0;">100</div><div class="t" style="left:237.00px;top:374px;font-size:6.3px;color:#2a2a2a;transform:translateX(-50%) scaleX(0.9);transform-origin:50% 0;">0</div><div class="t" style="left:287.00px;top:257px;font-size:4.8px;color:#5e5e5e;transform: scaleX(0.75);transform-origin:0 0;">6</div><div class="t" style="left:287.00px;top:264px;font-size:4.8px;color:#5e5e5e;transform: scaleX(0.75);transform-origin:0 0;">6</div><div class="t" style="left:287.00px;top:276px;font-size:4.8px;color:#5e5e5e;transform: scaleX(0.75);transform-origin:0 0;">16</div><div class="t" style="left:287.00px;top:326px;font-size:4.8px;color:#5e5e5e;transform: scaleX(0.75);transform-origin:0 0;">72</div><div class="t" style="left:270.60px;top:384px;font-size:6.3px;color:#111;transform:translateX(-50%) scaleX(0.93);transform-origin:50% 0;">≥3 mo. after end of all Tx<sup>a</sup></div><div class="t" style="left:270.60px;top:392px;font-size:6.3px;color:#111;transform:translateX(-50%) scaleX(0.93);transform-origin:50% 0;">(last dose of venetoclax<sup>b</sup>)</div><div class="t" style="left:270.40px;top:400px;font-size:6.3px;color:#111;transform:translateX(-50%) scaleX(0.95);transform-origin:50% 0;">(N = 32)</div><div class="t" style="left:314.80px;top:225px;font-size:10.8px;color:#1a1a1a;transform:;transform-origin:0 0;">E</div><div class="t" style="left:436.55px;top:241px;font-size:7.7px;color:#1a1a1a;transform:translateX(-50%) scaleX(0.9);transform-origin:50% 0;">1L (BM)</div><div class="t" style="left:337.60px;top:364px;font-size:6.3px;color:#2a2a2a;transform:translateX(-100%) scaleX(0.88);transform-origin:100% 0;">0</div><div class="t" style="left:337.60px;top:353px;font-size:6.3px;color:#2a2a2a;transform:translateX(-100%) scaleX(0.88);transform-origin:100% 0;">10</div><div class="t" style="left:337.60px;top:342px;font-size:6.3px;color:#2a2a2a;transform:translateX(-100%) scaleX(0.88);transform-origin:100% 0;">20</div><div class="t" style="left:337.60px;top:331px;font-size:6.3px;color:#2a2a2a;transform:translateX(-100%) scaleX(0.88);transform-origin:100% 0;">30</div><div class="t" style="left:337.60px;top:320px;font-size:6.3px;color:#2a2a2a;transform:translateX(-100%) scaleX(0.88);transform-origin:100% 0;">40</div><div class="t" style="left:337.60px;top:309px;font-size:6.3px;color:#2a2a2a;transform:translateX(-100%) scaleX(0.88);transform-origin:100% 0;">50</div><div class="t" style="left:337.60px;top:297px;font-size:6.3px;color:#2a2a2a;transform:translateX(-100%) scaleX(0.88);transform-origin:100% 0;">60</div><div class="t" style="left:337.60px;top:286px;font-size:6.3px;color:#2a2a2a;transform:translateX(-100%) scaleX(0.88);transform-origin:100% 0;">70</div><div class="t" style="left:337.60px;top:275px;font-size:6.3px;color:#2a2a2a;transform:translateX(-100%) scaleX(0.88);transform-origin:100% 0;">80</div><div class="t" style="left:337.60px;top:264px;font-size:6.3px;color:#2a2a2a;transform:translateX(-100%) scaleX(0.88);transform-origin:100% 0;">90</div><div class="t" style="left:337.60px;top:253px;font-size:6.3px;color:#2a2a2a;transform:translateX(-100%) scaleX(0.88);transform-origin:100% 0;">100</div><div class="t" style="left:343.80px;top:375px;font-size:6.3px;color:#2a2a2a;transform:translateX(-50%) scaleX(0.9);transform-origin:50% 0;">0</div><div class="t" style="left:319.20px;top:309.35px;font-size:8.3px;color:#222;transform:translate(-50%,-50%) rotate(-90deg) scaleX(0.945);">Patients (%)</div><div class="t" style="left:386.10px;top:256px;font-size:4.8px;color:#5e5e5e;transform: scaleX(0.75);transform-origin:0 0;">3</div><div class="t" style="left:386.10px;top:268px;font-size:4.8px;color:#5e5e5e;transform: scaleX(0.75);transform-origin:0 0;">19</div><div class="t" style="left:386.10px;top:322px;font-size:4.8px;color:#5e5e5e;transform: scaleX(0.75);transform-origin:0 0;">78</div><div class="t" style="left:437.60px;top:256px;font-size:4.8px;color:#5e5e5e;transform: scaleX(0.75);transform-origin:0 0;">4</div><div class="t" style="left:437.60px;top:267px;font-size:4.8px;color:#5e5e5e;transform: scaleX(0.75);transform-origin:0 0;">16</div><div class="t" style="left:437.60px;top:321px;font-size:4.8px;color:#5e5e5e;transform: scaleX(0.75);transform-origin:0 0;">80</div><div class="t" style="left:489.10px;top:270px;font-size:4.8px;color:#5e5e5e;transform: scaleX(0.75);transform-origin:0 0;">29</div><div class="t" style="left:489.10px;top:326px;font-size:4.8px;color:#5e5e5e;transform: scaleX(0.75);transform-origin:0 0;">71</div><div class="t" style="left:369.40px;top:385px;font-size:6.3px;color:#111;transform:translateX(-50%) scaleX(0.93);transform-origin:50% 0;">All 1L patients</div><div class="t" style="left:369.40px;top:393px;font-size:6.3px;color:#111;transform:translateX(-50%) scaleX(0.95);transform-origin:50% 0;">(N = 32)</div><div class="t" style="left:420.80px;top:385px;font-size:6.3px;color:#111;transform:translateX(-50%) scaleX(0.93);transform-origin:50% 0;">CR/CRi</div><div class="t" style="left:420.80px;top:393px;font-size:6.3px;color:#111;transform:translateX(-50%) scaleX(0.95);transform-origin:50% 0;">(N = 25)</div><div class="t" style="left:472.50px;top:385px;font-size:6.3px;color:#111;transform:translateX(-50%) scaleX(0.93);transform-origin:50% 0;">PR</div><div class="t" style="left:472.50px;top:393px;font-size:6.3px;color:#111;transform:translateX(-50%) scaleX(0.95);transform-origin:50% 0;">(N = 7)</div><div class="t" style="left:337.70px;top:418px;font-size:5.3px;color:#1a1a1a;transform: scaleX(0.96);transform-origin:0 0;">Undetectable (&lt;10<sup>−4</sup>)</div><div class="t" style="left:402.20px;top:418px;font-size:5.3px;color:#1a1a1a;transform: scaleX(0.96);transform-origin:0 0;">Low-level (≥10<sup>−4</sup>-&lt;10<sup>−2</sup>)</div><div class="t" style="left:471.30px;top:418px;font-size:5.3px;color:#1a1a1a;transform: scaleX(0.96);transform-origin:0 0;">High-level (≥10<sup>−2</sup>)</div><div class="t" style="left:337.70px;top:429px;font-size:5.3px;color:#1a1a1a;transform: scaleX(0.96);transform-origin:0 0;">Discontinued</div><div class="t" style="left:402.20px;top:429px;font-size:5.3px;color:#1a1a1a;transform: scaleX(0.96);transform-origin:0 0;">Undetermined<sup>d</sup></div><div class="t" style="left:471.30px;top:429px;font-size:5.3px;color:#1a1a1a;transform: scaleX(0.96);transform-origin:0 0;">Missing</div>
<div id="frame2"></div><div id="frame"></div>
</div></body></html>
